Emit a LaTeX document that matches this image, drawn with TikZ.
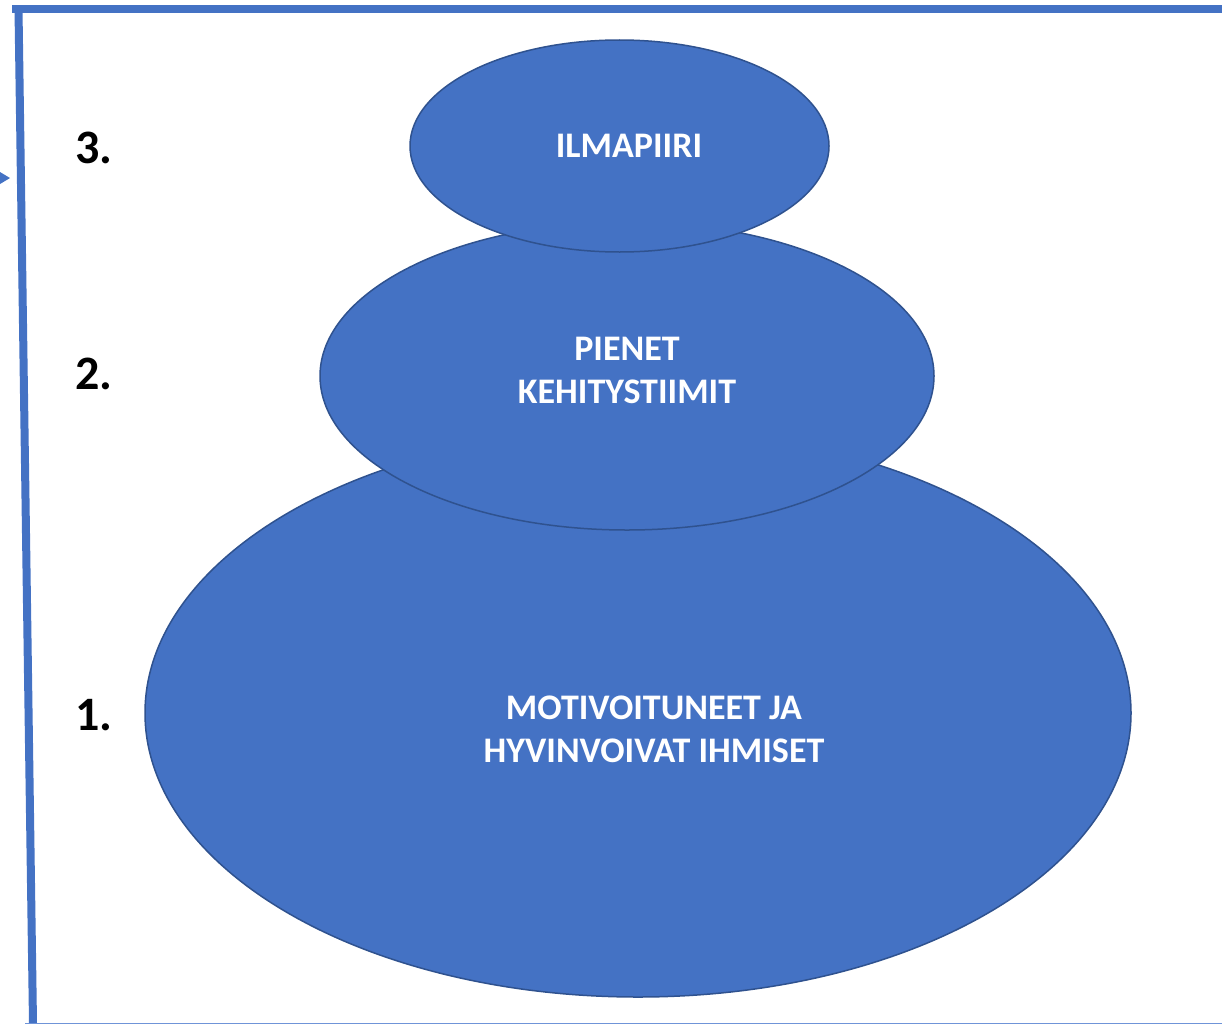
\documentclass[tikz,border=0pt]{standalone}
\usepackage{fontspec}
\setmainfont{Carlito}
\usetikzlibrary{shapes.geometric,arrows.meta}
\definecolor{bluefill}{HTML}{4472C4}
\definecolor{blueline}{HTML}{2F528F}
\definecolor{thinblue}{HTML}{6F94D8}
\tikzset{
	level/.style={ellipse, draw=blueline, line width=1.5pt, fill=bluefill, inner sep=0pt},
	lbl/.style={text=white, font=\bfseries\fontsize{36}{43}\selectfont, align=center},
	num/.style={font=\bfseries\fontsize{48}{50}\selectfont, anchor=base west, inner sep=0pt}
}

\begin{document}
\begin{tikzpicture}[x=1pt, y=-1pt]
		\useasboundingbox (0,0) rectangle (1222,1025);
		\coordinate (TL) at (12, 9);
		\coordinate (TR) at (1222, 9);
		\coordinate (LT) at (18.5, 9);
		\coordinate (LB) at (33, 1023);
		\coordinate (BL) at (25, 1023.5);
		\coordinate (BR) at (1222, 1023.5);
		\draw[bluefill, line width=8pt] (TL) -- (TR);
		\draw[bluefill, line width=8pt] (LT) -- (LB);
		\draw[thinblue, line width=1.5pt] (BL) -- (BR);
		\fill[bluefill] (0, 172) -- (10, 178) -- (0, 184) -- cycle;
		\node[level, minimum width=986pt, minimum height=568pt] (big) at (638, 713) {};
		\node[level, minimum width=614pt, minimum height=308pt] (mid) at (627, 376) {};
		\node[level, minimum width=419pt, minimum height=212pt] (top) at (619.5, 146) {};
		\node[lbl] (bigtext) at (654, 729) {MOTIVOITUNEET JA\\HYVINVOIVAT IHMISET};
		\node[lbl] (midtext) at (627, 370) {PIENET\\KEHITYSTIIMIT};
		\node[lbl] (toptext) at (629, 146) {ILMAPIIRI};
		\node[num] (n3) at (75, 163) {3.};
		\node[num] (n2) at (75, 389) {2.};
		\node[num] (n1) at (75, 730) {1.};
	\end{tikzpicture}
\end{document}
